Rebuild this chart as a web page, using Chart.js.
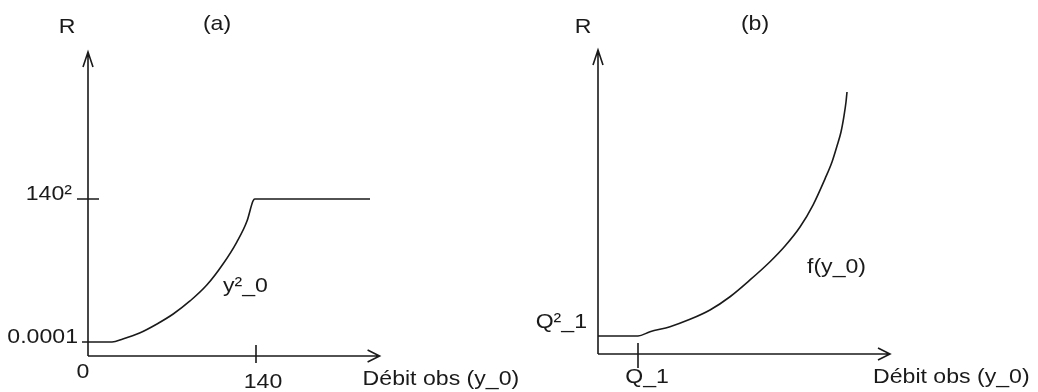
<!DOCTYPE html>
<html>
<head>
<meta charset="utf-8">
<script src="https://cdn.jsdelivr.net/npm/chart.js@4.4.1/dist/chart.umd.min.js"></script>
<style>
  body { margin: 0; background: #fff; }
  canvas { position: absolute; top: 0; }
  #chartA { left: 0; }
  #chartB { left: 519px; }
</style>
</head>
<body>
<canvas id="chartA" width="519" height="392"></canvas>
<canvas id="chartB" width="519" height="392"></canvas>
<script>
// panel (a): R capped at 140² once the flow passes 140
const flowA = [0, 20, 29, 43, 57.5, 71, 85, 99, 112.5, 124, 132.5, 137.5, 139, 235];
const resA = [1750, 1750, 2120, 2870, 4000, 5240, 6870, 8860, 11490, 14230, 16850, 19350, 19600, 19600];
const xTickValsA = [0, 140];
const xTickLabelsA = ['0', '140'];
const yTickValsA = [1750, 19600];
const yTickLabelsA = ['0.0001', '140²'];

// panel (b): R = Q_1² below Q_1, then f(y_0)
const flowB = [0, 40, 52, 72, 92, 112, 132, 152, 172, 187, 202, 215, 227, 234, 239, 243, 246, 248, 249];
const resB = [1600, 1600, 1980, 2430, 3080, 3910, 5090, 6580, 8200, 9600, 11290, 13240, 15570, 17070, 18490, 19730, 21160, 22400, 23290];
const xTickValsB = [40];
const xTickLabelsB = ['Q_1'];
const yTickValsB = [1600];
const yTickLabelsB = ['Q²_1'];

const panelTitles = ['(a)', '(b)'];
const curveLabels = ['y²_0', 'f(y_0)'];
const xTitle = 'Débit obs (y_0)';
const yTitle = 'R';

const ink = '#1a1a1a';
const font = '21px "Liberation Sans", Arial, sans-serif';
const stretch = 1.1; // the original lettering is a little wider than Arial

function putText(c, str, x, y, align) {
    const w = c.measureText(str).width * stretch;
    let left = x;
    if (align === 'center') left = x - w / 2;
    if (align === 'right') left = x - w;
    c.save();
    c.translate(left, y);
    c.scale(stretch, 1);
    c.textAlign = 'left';
    c.fillText(str, 0, 0);
    c.restore();
}

// draws the hand-made axes, arrows, ticks and texts from the chart's scales
const sketchPlugin = {
    id: 'sketch',
    afterDraw(chart, args, o) {
        const c = chart.ctx;
        const xs = chart.scales.x, ys = chart.scales.y;
        const x0 = xs.getPixelForValue(0), y0 = ys.getPixelForValue(0);
        const xe = xs.getPixelForValue(o.xEnd), ye = ys.getPixelForValue(o.yEnd);
        c.save();
        c.strokeStyle = ink;
        c.fillStyle = ink;
        c.lineWidth = 1.6;
        c.beginPath();
        // axes
        c.moveTo(x0, y0); c.lineTo(x0, ye);
        c.moveTo(x0, y0); c.lineTo(xe, y0);
        // arrow heads
        c.moveTo(x0 - 5, ye + 15); c.lineTo(x0, ye); c.lineTo(x0 + 5, ye + 15);
        c.moveTo(xe - 12, y0 - 6); c.lineTo(xe, y0); c.lineTo(xe - 12, y0 + 6);
        // ticks
        o.xTicks.forEach((v, i) => {
            const p = xs.getPixelForValue(v);
            const s = o.xTickSpan[i];
            if (s[0] !== s[1]) { c.moveTo(p, y0 + s[0]); c.lineTo(p, y0 + s[1]); }
        });
        o.yTicks.forEach((v, i) => {
            const p = ys.getPixelForValue(v);
            const s = o.yTickSpan[i];
            if (s[0] !== s[1]) { c.moveTo(x0 + s[0], p); c.lineTo(x0 + s[1], p); }
        });
        c.stroke();

        c.font = font;
        c.textBaseline = 'alphabetic';
        o.xTicks.forEach((v, i) => {
            const p = xs.getPixelForValue(v);
            putText(c, o.xTickText[i], p + o.xTickOff[i][0], y0 + o.xTickOff[i][1], 'center');
        });
        o.yTicks.forEach((v, i) => {
            const p = ys.getPixelForValue(v);
            putText(c, o.yTickText[i], x0 + o.yTickOff[i][0], p + o.yTickOff[i][1], 'right');
        });
        putText(c, yTitle, x0 + o.yTitleDx, 33, 'center');
        putText(c, o.title, xs.getPixelForValue(o.titleX), 30, 'center');
        putText(c, xTitle, xe - 17, y0 + 29, 'left');
        putText(c, o.curveLabel, xs.getPixelForValue(o.curveLabelAt[0]), ys.getPixelForValue(o.curveLabelAt[1]), 'left');
        c.restore();
    }
};

function makePanel(el, flow, res, pad, xMax, yMax, sketch) {
    return new Chart(document.getElementById(el), {
        type: 'scatter',
        data: {
            datasets: [{
                data: flow.map((x, i) => ({ x: x, y: res[i] })),
                showLine: true,
                borderColor: ink,
                borderWidth: 1.6,
                pointRadius: 0,
                cubicInterpolationMode: 'monotone',
                clip: false
            }]
        },
        options: {
            responsive: false,
            animation: false,
            events: [],
            layout: { padding: pad },
            scales: {
                x: { type: 'linear', display: false, min: 0, max: xMax },
                y: { type: 'linear', display: false, min: 0, max: yMax }
            },
            plugins: {
                legend: { display: false },
                tooltip: { enabled: false },
                sketch: sketch
            }
        },
        plugins: [sketchPlugin]
    });
}

makePanel('chartA', flowA, resA, { left: 88, right: 131, top: 40, bottom: 36 }, 250, 39450, {
    xEnd: 243, yEnd: 37950,
    xTicks: xTickValsA, xTickText: xTickLabelsA,
    xTickSpan: [[0, 0], [-11, 7]], xTickOff: [[-5, 22], [7, 32]],
    yTicks: yTickValsA, yTickText: yTickLabelsA,
    yTickSpan: [[-6, 0], [-11, 11]], yTickOff: [[-10, 1], [-16, 1]],
    yTitleDx: -21,
    title: panelTitles[0], titleX: 107.5,
    curveLabel: curveLabels[0], curveLabelAt: [112.5, 7990]
});

makePanel('chartB', flowB, resB, { left: 79, right: 140, top: 40, bottom: 38 }, 300, 27911, {
    xEnd: 292, yEnd: 27020,
    xTicks: xTickValsB, xTickText: xTickLabelsB,
    xTickSpan: [[-11, 14]], xTickOff: [[9, 29]],
    yTicks: yTickValsB, yTickText: yTickLabelsB,
    yTickSpan: [[0, 0]], yTickOff: [[-11, -8]],
    yTitleDx: -15,
    title: panelTitles[1], titleX: 157,
    curveLabel: curveLabels[1], curveLabelAt: [209, 7200]
});
</script>
</body>
</html>
